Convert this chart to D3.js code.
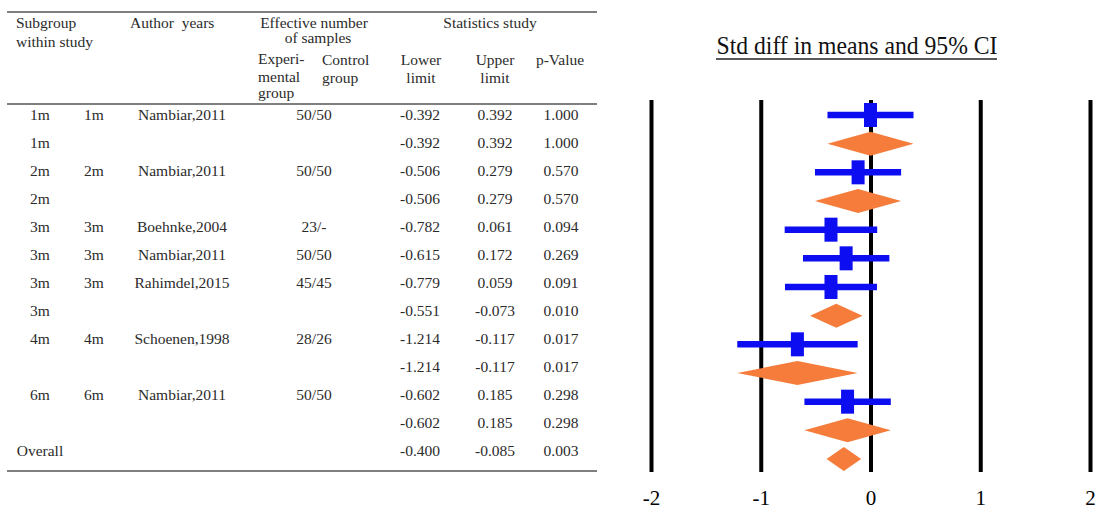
<!DOCTYPE html>
<html lang="en">
  <head>
    <meta charset="utf-8">
    <title>Std diff in means forest plot</title>
    <style>
      body {
          margin: 0;
          background: white;
      }
      svg {
          display: block;
          font-family: "Liberation Serif", "Times New Roman", serif;
      }
    </style>
    <script src="https://d3js.org/d3.v7.min.js"></script>
  </head>
  <body>
    <div class="chart"></div>
    <script>

    const width = 1101, height = 510;

    // table columns
    const subgroup = ["1m","1m","2m","2m","3m","3m","3m","3m","4m","","6m","","Overall"]
    const within = ["1m","","2m","","3m","3m","3m","","4m","","6m","",""]
    const authors = ["Nambiar,2011","","Nambiar,2011","","Boehnke,2004","Nambiar,2011","Rahimdel,2015","","Schoenen,1998","","Nambiar,2011","",""]
    const samples = ["50/50","","50/50","","23/-","50/50","45/45","","28/26","","50/50","",""]
    const lower = [-0.392,-0.392,-0.506,-0.506,-0.782,-0.615,-0.779,-0.551,-1.214,-1.214,-0.602,-0.602,-0.400]
    const upper = [0.392,0.392,0.279,0.279,0.061,0.172,0.059,-0.073,-0.117,-0.117,0.185,0.185,-0.085]
    const pValues = ["1.000","1.000","0.570","0.570","0.094","0.269","0.091","0.010","0.017","0.017","0.298","0.298","0.003"]
    // point estimates
    const estimate = [0.000,0.000,-0.113,-0.113,-0.360,-0.222,-0.360,-0.312,-0.666,-0.666,-0.209,-0.209,-0.243]
    const rowType = ["study","summary","study","summary","study","study","study","summary","study","summary","study","summary","summary"]

    const ticks = [-2,-1,0,1,2]

    const rows = subgroup.map((d,i) => ({
      i: i, sub: d, within: within[i], author: authors[i], n: samples[i],
      lo: lower[i], hi: upper[i], p: pValues[i], est: estimate[i], type: rowType[i]
    }))

    const svg = d3.select(".chart")
      .append("svg")
      .attr("width",width)
      .attr("height",height)

    // ---------- table ----------
    const rowY = d3.scalePoint()
      .domain(d3.range(rows.length))
      .range([120,456])

    const table = svg.append("g").style("fill","#2b2b2b").style("font-size","15.5px")

    table.selectAll("line.rule")
      .data([12,104,471])
      .join("line")
      .attr("class","rule")
      .attr("x1",7).attr("x2",597)
      .attr("y1",d=>d).attr("y2",d=>d)
      .attr("stroke","#555")
      .attr("stroke-width",1.6)

    const header = [
      {t:"Subgroup", x:16, y:28, a:"start"},
      {t:"within study", x:16, y:47, a:"start"},
      {t:"Author  years", x:130, y:28, a:"start"},
      {t:"Effective number", x:314, y:28, a:"middle"},
      {t:"of samples", x:318, y:43, a:"middle"},
      {t:"Experi-", x:258, y:64, a:"start"},
      {t:"mental", x:258, y:82, a:"start"},
      {t:"group", x:258, y:98, a:"start"},
      {t:"Control", x:322, y:65, a:"start"},
      {t:"group", x:322, y:83, a:"start"},
      {t:"Statistics study", x:490, y:28, a:"middle"},
      {t:"Lower", x:421, y:65, a:"middle"},
      {t:"limit", x:421, y:83, a:"middle"},
      {t:"Upper", x:495, y:65, a:"middle"},
      {t:"limit", x:495, y:83, a:"middle"},
      {t:"p-Value", x:560, y:65, a:"middle"}
    ]
    table.selectAll("text.head")
      .data(header)
      .join("text")
      .attr("class","head")
      .attr("x",d=>d.x)
      .attr("y",d=>d.y)
      .attr("text-anchor",d=>d.a)
      .style("white-space","pre")
      .text(d=>d.t)

    const cols = [
      {key:"sub", x:40},
      {key:"within", x:94},
      {key:"author", x:182},
      {key:"n", x:314},
      {key:"lo", x:420, fmt:d3.format(".3f")},
      {key:"hi", x:495, fmt:d3.format(".3f")},
      {key:"p", x:561}
    ]
    cols.forEach(c => {
      table.append("g")
        .selectAll("text")
        .data(rows)
        .join("text")
        .attr("x",c.x)
        .attr("y",d=>rowY(d.i))
        .attr("text-anchor","middle")
        .text(d => c.fmt ? c.fmt(d[c.key]).replace("\u2212","-") : d[c.key])
    })

    // ---------- forest plot ----------
    const x = d3.scaleLinear().domain([-2,2]).range([651,1090])
    const y = d3.scalePoint()
      .domain(d3.range(rows.length))
      .range([115,459])

    const axis = svg.append("g")
      .attr("transform","translate(0,472)")
      .call(d3.axisBottom(x)
        .tickValues(ticks)
        .tickSize(-372)
        .tickPadding(18)
        .tickFormat(d=>String(d)))
    axis.select(".domain").remove()
    axis.selectAll(".tick line")
      .attr("stroke","#000")
      .attr("stroke-width",4)
    axis.selectAll(".tick text")
      .attr("fill","#000")
      .style("font-family","'Liberation Serif', serif")
      .style("font-size","21px")

    const blue = "#0d0df2", orange = "#f57c3a"

    const study = rows.filter(d=>d.type=="study")
    const summary = rows.filter(d=>d.type=="summary")

    svg.append("g")
      .attr("stroke",blue)
      .attr("stroke-width",6.5)
      .selectAll("line")
      .data(study)
      .join("line")
      .attr("x1",d=>x(d.lo))
      .attr("x2",d=>x(d.hi))
      .attr("y1",d=>y(d.i))
      .attr("y2",d=>y(d.i))

    svg.append("g")
      .attr("fill",blue)
      .selectAll("rect")
      .data(study)
      .join("rect")
      .attr("x",d=>x(d.est)-6.5)
      .attr("y",d=>y(d.i)-12)
      .attr("width",13)
      .attr("height",24)

    svg.append("g")
      .attr("fill",orange)
      .selectAll("path")
      .data(summary)
      .join("path")
      .attr("d",d => {
        const cy = y(d.i)
        return "M"+x(d.lo)+","+cy+"L"+x(d.est)+","+(cy-12)+"L"+x(d.hi)+","+cy+"L"+x(d.est)+","+(cy+12)+"Z"
      })

    // title
    svg.append("text")
      .attr("x",857)
      .attr("y",54)
      .attr("text-anchor","middle")
      .attr("textLength",281)
      .attr("lengthAdjust","spacingAndGlyphs")
      .style("font-family","'Liberation Serif', serif")
      .style("font-size","25px")
      .style("fill","#111")
      .text("Std diff in means and 95% CI")

    svg.append("line")
      .attr("x1",716).attr("x2",997)
      .attr("y1",59).attr("y2",59)
      .attr("stroke","#222")
      .attr("stroke-width",1.3)

    </script>
  </body>
</html>
